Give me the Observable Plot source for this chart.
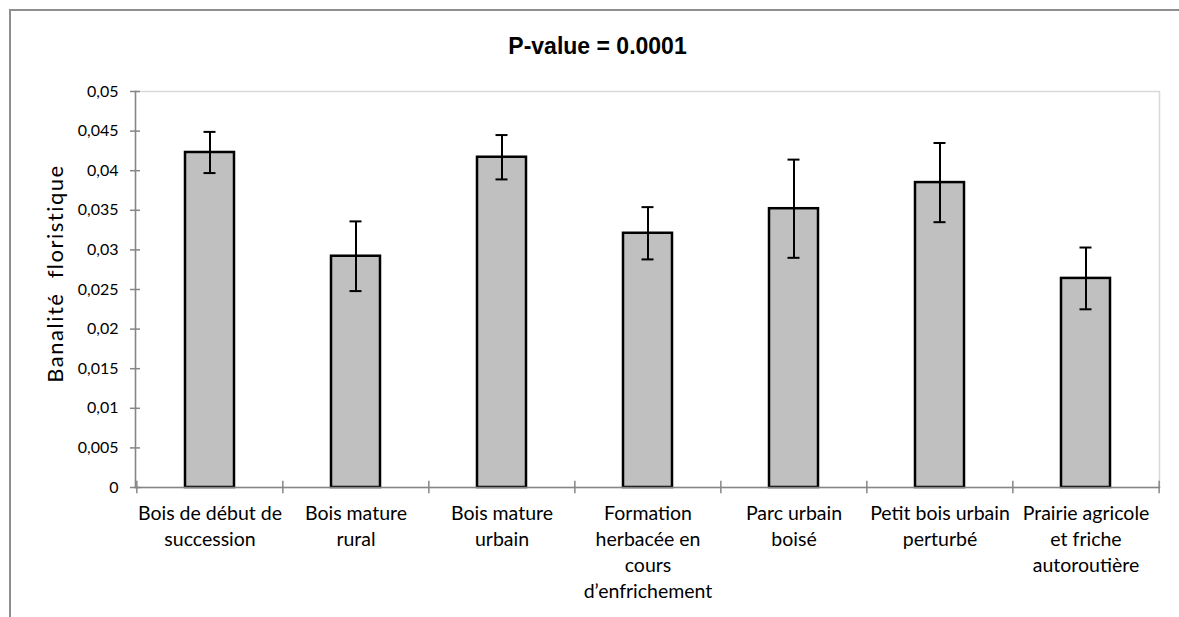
<!DOCTYPE html>
<html>
<head>
<meta charset="utf-8">
<script src="https://cdn.jsdelivr.net/npm/d3@7"></script>
<script src="https://cdn.jsdelivr.net/npm/@observablehq/plot@0.6"></script>
<style>
  html, body { margin: 0; padding: 0; background: #fff; }
  #wrap { position: relative; width: 1179px; height: 617px; overflow: hidden; background: #fff; }
  #border { position: absolute; left: 9px; top: 9px; width: 1200px; height: 700px; border-top: 2px solid #8e8e8e; border-left: 2px solid #8e8e8e; z-index: 2; pointer-events: none; }
  #chart { position: absolute; left: 0; top: 0; z-index: 1; }
</style>
</head>
<body>
<div id="wrap"><div id="chart"></div><div id="border"></div></div>
<script>
const categories = [
  "Bois de début de succession",
  "Bois mature rural",
  "Bois mature urbain",
  "Formation herbacée en cours d’enfrichement",
  "Parc urbain boisé",
  "Petit bois urbain perturbé",
  "Prairie agricole et friche autoroutière"
];
const categoryLabels = [
  "Bois de début de\nsuccession",
  "Bois mature\nrural",
  "Bois mature\nurbain",
  "Formation\nherbacée en\ncours\nd’enfrichement",
  "Parc urbain\nboisé",
  "Petit bois urbain\nperturbé",
  "Prairie agricole\net friche\nautoroutière"
];
const means  = [0.0423, 0.0292, 0.0417, 0.0321, 0.0352, 0.0385, 0.0264];
const errors = [0.0026, 0.0044, 0.0028, 0.0033, 0.0062, 0.0050, 0.0039];
const yTicks = [0, 0.005, 0.01, 0.015, 0.02, 0.025, 0.03, 0.035, 0.04, 0.045, 0.05];
const yTickLabels = ["0", "0,005", "0,01", "0,015", "0,02", "0,025", "0,03", "0,035", "0,04", "0,045", "0,05"];
const title = "P-value = 0.0001";
const yLabel = "Banalité\u00a0 floristique";

const data = categories.map((c, i) => ({cat: c, v: means[i], lo: means[i] - errors[i], hi: means[i] + errors[i]}));

const W = 1179, H = 617, ML = 135, MR = 20, MT = 91, MB = 130;
const step = (W - ML - MR) / categories.length;
const font = "Lato, 'Open Sans', sans-serif";
const axisGray = "#868686";

const chart = Plot.plot({
  width: W, height: H,
  marginLeft: ML, marginRight: MR, marginTop: MT, marginBottom: MB,
  style: {fontFamily: font, background: "transparent", overflow: "visible"},
  x: {type: "band", domain: categories, paddingInner: 0.665, paddingOuter: 0.3325, label: null},
  y: {domain: [0, 0.05], label: null},
  marks: [
    Plot.frame({stroke: "#d9d9d9", strokeWidth: 1.5}),
    Plot.barY(data, {x: "cat", y: "v", fill: "#c0c0c0", stroke: "black", strokeWidth: 2.5}),
    Plot.ruleX(data, {x: "cat", y1: "lo", y2: "hi", stroke: "black", strokeWidth: 2}),
    Plot.tickY(data, {x: "cat", y: "lo", stroke: "black", strokeWidth: 2, insetLeft: 18.5, insetRight: 18.5}),
    Plot.tickY(data, {x: "cat", y: "hi", stroke: "black", strokeWidth: 2, insetLeft: 18.5, insetRight: 18.5}),
    Plot.frame({anchor: "left", stroke: axisGray, strokeWidth: 1.5}),
    Plot.frame({anchor: "bottom", stroke: axisGray, strokeWidth: 1.5}),
    Plot.tickY(yTicks, {y: d => d, stroke: axisGray, strokeWidth: 1.5, insetLeft: -5, insetRight: W - ML - MR - 5}),
    Plot.ruleX(categories, {x: d => d, y1: -0.0008, y2: 0.0008, dx: -step / 2, stroke: axisGray, strokeWidth: 1.5}),
    Plot.ruleX([categories[categories.length - 1]], {x: d => d, y1: -0.0008, y2: 0.0008, dx: step / 2, stroke: axisGray, strokeWidth: 1.5}),
    Plot.axisY({ticks: yTicks, tickFormat: (d, i) => yTickLabels[i], tickSize: 0, tickPadding: 17, fontSize: 16, fill: "#000", label: null}),
    Plot.axisX({tickSize: 0, tickPadding: 14, tickFormat: (d, i) => categoryLabels[i], fontSize: 19.5, lineHeight: 1.33, fill: "#000", label: null}),
    Plot.text([title], {frameAnchor: "top", dx: -50, dy: -54, fontSize: 23, fontWeight: "bold", fontFamily: "'Liberation Sans', Arial, sans-serif", fill: "#000"}),
    Plot.text([yLabel], {frameAnchor: "left", textAnchor: "middle", rotate: -90, dx: -80, dy: -16, fontSize: 22, fill: "#000"})
  ]
});
// widen the rotated axis title slightly, like the reference
d3.select(chart).selectAll("text").filter(function() { return this.textContent === yLabel; })
  .attr("letter-spacing", "1.5px");
document.getElementById("chart").appendChild(chart);
</script>
</body>
</html>
